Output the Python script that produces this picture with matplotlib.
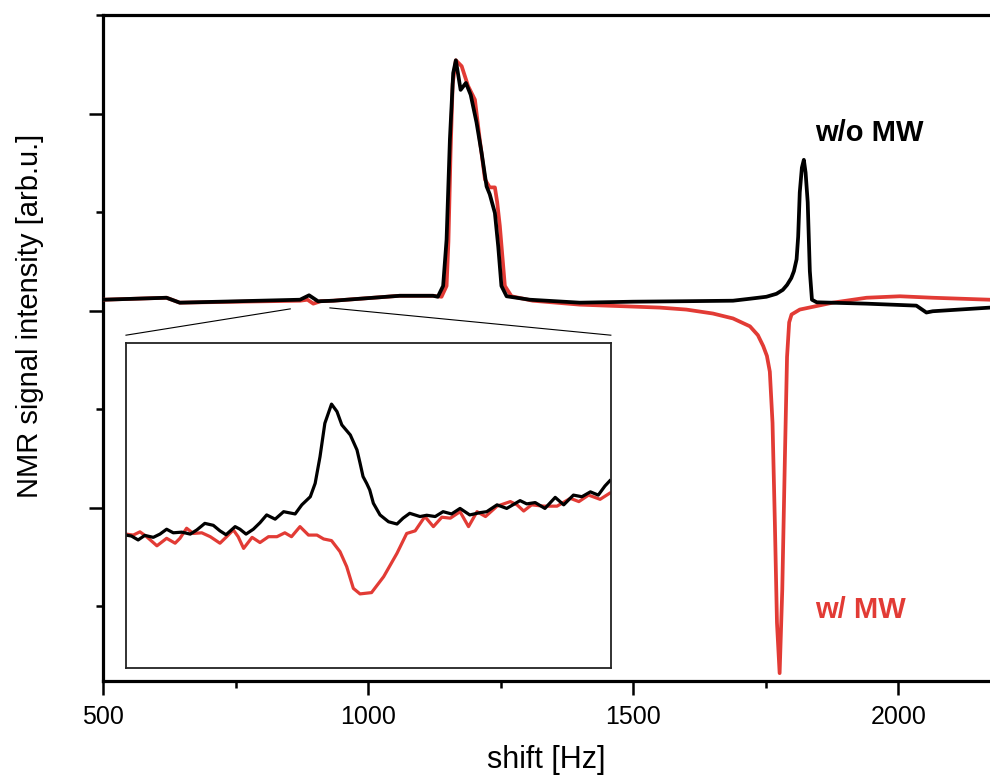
"""
NMR spectrum with and without microwave irradiation, plus a zoomed inset.
"""
import matplotlib
matplotlib.use('Agg')
import matplotlib.pyplot as plt
from matplotlib.ticker import MultipleLocator

plt.rcParams['font.family'] = ['Liberation Sans', 'DejaVu Sans']

# main spectrum, without MW (black)
hz_black = [500, 619, 644, 871, 888, 905, 934, 1059, 1122, 1131, 1141, 1147.5, 1153.8, 1160,
            1165, 1174, 1184, 1193, 1204, 1213.6, 1223, 1229, 1238.7, 1245, 1251, 1260.8, 1304.7,
            1399, 1500, 1600, 1688, 1720, 1751, 1770, 1782, 1790, 1798, 1803, 1808, 1811, 1814,
            1818, 1821.7, 1825, 1829, 1833, 1837, 1846, 1940, 2034, 2053, 2065, 2173]
int_black = [0.11, 0.13, 0.08, 0.11, 0.155, 0.094, 0.10, 0.15, 0.15, 0.14, 0.25, 0.72, 1.74, 2.41,
             2.54, 2.24, 2.31, 2.19, 1.91, 1.60, 1.26, 1.18, 0.99, 0.65, 0.25, 0.145, 0.11,
             0.08, 0.09, 0.095, 0.10, 0.12, 0.14, 0.17, 0.21, 0.26, 0.33, 0.40, 0.52, 0.75, 1.20,
             1.45, 1.53, 1.40, 1.10, 0.40, 0.11, 0.084, 0.07, 0.05, -0.02, -0.007, 0.03]

# main spectrum, with MW (red)
hz_red = [500, 619, 644, 871, 885, 896, 910, 934, 1059, 1122, 1138, 1147.5, 1151, 1155, 1159,
          1165, 1176, 1188, 1201, 1210, 1220, 1229, 1238.7, 1243, 1248, 1257.5, 1270, 1310,
          1399, 1500, 1550, 1600, 1650, 1688, 1720, 1735, 1745, 1752, 1757.5, 1762.6, 1767, 1771,
          1776, 1781, 1786, 1790, 1794, 1798.5, 1814, 1876, 1940, 2003, 2065, 2173]
int_red = [0.11, 0.13, 0.08, 0.10, 0.11, 0.07, 0.095, 0.10, 0.15, 0.15, 0.14, 0.25, 0.70, 1.60, 2.30,
           2.54, 2.48, 2.28, 2.14, 1.74, 1.33, 1.25, 1.25, 1.10, 0.86, 0.25, 0.145, 0.10,
           0.06, 0.04, 0.03, 0.01, -0.03, -0.08, -0.16, -0.25, -0.36, -0.46, -0.62, -1.14, -2.15, -3.17,
           -3.68, -2.83, -1.48, -0.47, -0.12, -0.04, 0.01, 0.08, 0.13, 0.145, 0.13, 0.11]

# inset (850-930 Hz), without MW
ins_hz_black = [850.0, 850.9, 852.0, 853.1, 854.5, 855.6, 856.7, 857.8, 859.2, 860.6, 861.7, 863.0,
                864.4, 865.5, 866.5, 868.0, 868.8, 869.8, 871.0, 872.1, 873.2, 874.6, 876.0, 876.8,
                877.9, 879.0, 880.4, 881.2, 882.0, 882.8, 883.9, 884.8, 885.6, 887.0, 888.1, 888.6,
                889.1, 889.7, 890.2, 890.8, 891.9, 893.3, 894.7, 895.7, 896.8, 898.5, 899.6, 901.0,
                902.3, 903.7, 905.1, 906.7, 908.4, 909.5, 911.2, 912.8, 915.0, 916.1, 917.5, 919.1,
                920.8, 922.2, 923.8, 925.2, 926.6, 927.9, 929.0, 929.8]
ins_int_black = [4.09, 4.06, 3.94, 4.08, 4.02, 4.12, 4.27, 4.16, 4.18, 4.12, 4.25, 4.45,
                 4.39, 4.22, 4.10, 4.35, 4.27, 4.12, 4.27, 4.47, 4.71, 4.58, 4.81, 4.78,
                 4.74, 5.02, 5.27, 5.68, 6.50, 7.53, 8.12, 7.89, 7.48, 7.17, 6.71, 6.31,
                 5.89, 5.68, 5.48, 5.07, 4.71, 4.50, 4.43, 4.61, 4.76, 4.66, 4.70, 4.66,
                 4.81, 4.74, 4.91, 4.71, 4.78, 4.81, 5.02, 4.91, 5.15, 5.05, 5.09, 4.91,
                 5.25, 5.02, 5.32, 5.27, 5.42, 5.32, 5.60, 5.76]

# inset (850-930 Hz), with MW
ins_hz_red = [850.0, 851.2, 852.3, 853.4, 855.1, 856.7, 858.1, 858.9, 860.0, 861.1, 862.5, 863.9,
              865.5, 866.6, 867.7, 868.5, 869.4, 870.8, 872.1, 873.5, 874.9, 876.2, 877.3, 878.7,
              880.1, 881.5, 882.6, 883.9, 885.3, 886.4, 887.5, 888.6, 890.5, 892.5, 894.7, 896.3,
              897.7, 899.3, 900.7, 902.1, 903.5, 905.1, 906.5, 907.9, 909.3, 911.2, 913.4, 914.5,
              915.6, 916.9, 918.9, 921.1, 923.3, 924.7, 926.3, 928.2, 929.8]
ins_int_red = [4.12, 4.09, 4.19, 4.04, 3.76, 3.99, 3.84, 3.99, 4.30, 4.14, 4.16, 4.04,
               3.84, 4.04, 4.25, 4.04, 3.68, 4.02, 3.86, 4.04, 4.04, 4.16, 4.04, 4.35,
               4.09, 4.09, 3.97, 3.92, 3.58, 3.12, 2.45, 2.28, 2.32, 2.81, 3.53, 4.14,
               4.22, 4.66, 4.35, 4.64, 4.61, 4.81, 4.35, 4.81, 4.66, 4.98, 5.12, 5.02,
               4.83, 5.02, 4.98, 4.98, 5.22, 5.12, 5.32, 5.19, 5.38]

RED = '#e23b35'

fig = plt.figure(figsize=(9.9, 7.76), dpi=100)
ax = fig.add_axes([0.1045, 0.1224, 0.8955, 0.8583])

ax.plot(hz_red, int_red, color=RED, lw=2.7, solid_joinstyle='round', zorder=3)
ax.plot(hz_black, int_black, color='black', lw=2.7, solid_joinstyle='round', zorder=4)

ax.set_xlim(500, 2173)
ax.set_ylim(-3.76, 3.0)
ax.xaxis.set_major_locator(MultipleLocator(500))
ax.xaxis.set_minor_locator(MultipleLocator(250))
ax.yaxis.set_major_locator(MultipleLocator(2))
ax.yaxis.set_minor_locator(MultipleLocator(1))
ax.set_yticklabels([])
ax.tick_params(axis='both', which='major', direction='out', length=10, width=1.8,
               labelsize=18, pad=7)
ax.tick_params(axis='both', which='minor', direction='out', length=5, width=1.8)
ax.tick_params(axis='y', which='both', labelleft=False)
for side in ['left', 'bottom', 'top']:
    ax.spines[side].set_linewidth(2.3)
ax.spines['right'].set_visible(False)

ax.set_xlabel('shift [Hz]', fontsize=22, labelpad=12)
fig.text(30 / 990, 1 - 316 / 776, 'NMR signal intensity [arb.u.]', rotation=90,
         fontsize=21, ha='center', va='center')

ax.text(1842, 1.80, 'w/o MW', color='black', fontsize=21, fontweight='bold',
        ha='left', va='center')
ax.text(1842, -3.04, 'w/ MW', color=RED, fontsize=21, fontweight='bold',
        ha='left', va='center')

# zoom connector lines
ax.plot([542.5, 852.5], [-0.25, 0.017], color='black', lw=0.8)
ax.plot([927.4, 1457.5], [0.027, -0.25], color='black', lw=0.8)

# inset
axin = fig.add_axes([126 / 990, 1 - 668 / 776, 485 / 990, 325 / 776])
axin.plot(ins_hz_red, ins_int_red, color=RED, lw=2.3, solid_joinstyle='round')
axin.plot(ins_hz_black, ins_int_black, color='black', lw=2.3, solid_joinstyle='round')
axin.set_xlim(850, 930)
axin.set_ylim(0, 10)
axin.set_xticks([])
axin.set_yticks([])
for side in axin.spines.values():
    side.set_linewidth(1.3)
    side.set_color('#222222')

fig.savefig('out.png', dpi=100)
